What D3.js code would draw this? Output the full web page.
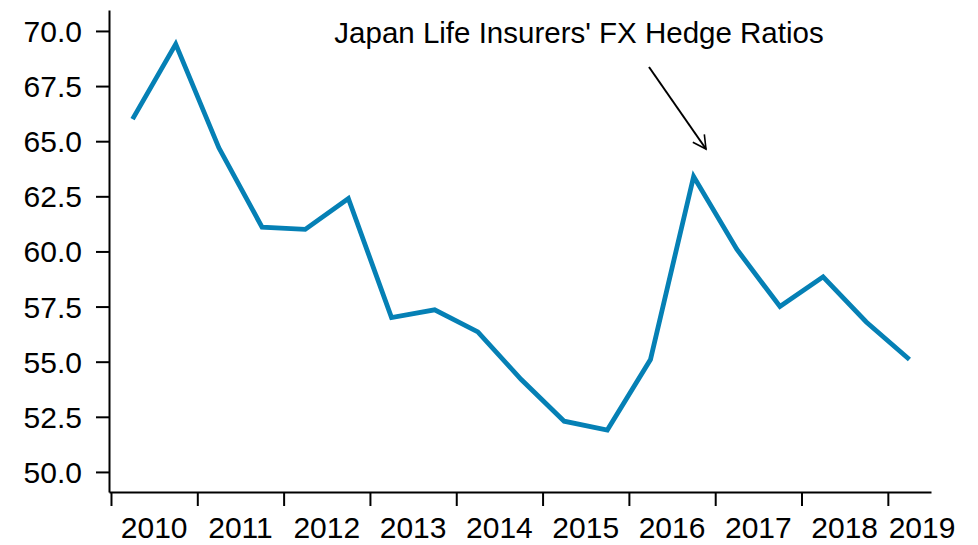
<!DOCTYPE html>
<html>
<head>
<meta charset="utf-8">
<script src="https://cdn.jsdelivr.net/npm/d3@7"></script>
<style>
  html, body { margin: 0; padding: 0; background: #fff; }
  svg text { font-family: "Liberation Sans", Arial, sans-serif; fill: #000; }
</style>
</head>
<body>
<div id="grafico"></div>
<script>
// datos - semestral (mitad de cada semestre)
const periodos = [2010.25, 2010.75, 2011.25, 2011.75, 2012.25, 2012.75, 2013.25, 2013.75,
                  2014.25, 2014.75, 2015.25, 2015.75, 2016.25, 2016.75, 2017.25, 2017.75,
                  2018.25, 2018.75, 2019.25];
const ratios = [66.0, 69.4, 64.7, 61.1, 61.0, 62.4, 57.0, 57.35,
                56.35, 54.2, 52.3, 51.9, 55.1, 63.4, 60.1, 57.5,
                58.85, 56.8, 55.1];
const years = [2010, 2011, 2012, 2013, 2014, 2015, 2016, 2017, 2018, 2019];
const yTicks = [50, 52.5, 55, 57.5, 60, 62.5, 65, 67.5, 70];
const titulo = "Japan Life Insurers' FX Hedge Ratios";

const width = 978;
const height = 545;

const svg = d3.select("#grafico")
    .append("svg")
    .attr("width", width)
    .attr("height", height);

// escalas
const x = d3.scaleLinear()
    .domain([2009.977, 2019.5])
    .range([109, 931]);

const y = d3.scaleLinear()
    .domain([49.09, 70.95])
    .range([492, 10]);

// eje Y
const yAxis = d3.axisLeft(y)
    .tickValues(yTicks)
    .tickFormat(d3.format(".1f"))
    .tickSize(13)
    .tickSizeOuter(0)
    .tickPadding(14);

const gy = svg.append("g")
    .attr("transform", `translate(${x.range()[0]},0)`)
    .call(yAxis);
gy.selectAll("text").style("font-size", "30px").attr("dy", "0.35em");

// eje X
const xAxis = d3.axisBottom(x)
    .tickValues(years)
    .tickFormat("")
    .tickSize(14)
    .tickSizeOuter(0);

const gx = svg.append("g")
    .attr("transform", `translate(0,${y.range()[0]})`)
    .call(xAxis);

svg.selectAll(".domain, .tick line")
    .attr("stroke", "#000")
    .attr("stroke-width", 2);

// etiquetas de años centradas en cada año
svg.append("g")
    .selectAll("text")
    .data(years)
    .join("text")
    .attr("x", d => Math.min(x(d + 0.5), 922))
    .attr("y", 538)
    .attr("text-anchor", "middle")
    .style("font-size", "30px")
    .text(d => d);

// linea
const linea = d3.line()
    .x((d, i) => x(periodos[i]))
    .y(d => y(d));

svg.append("path")
    .datum(ratios)
    .attr("d", linea)
    .attr("fill", "none")
    .attr("stroke", "#0580b5")
    .attr("stroke-width", 4.8)
    .attr("stroke-linejoin", "miter");

// titulo + flecha
svg.append("text")
    .attr("x", 579)
    .attr("y", 43)
    .attr("text-anchor", "middle")
    .style("font-size", "29.5px")
    .text(titulo);

svg.append("defs").append("marker")
    .attr("id", "flecha")
    .attr("viewBox", "-14 -8 16 16")
    .attr("refX", 0)
    .attr("refY", 0)
    .attr("markerWidth", 16)
    .attr("markerHeight", 16)
    .attr("markerUnits", "userSpaceOnUse")
    .attr("orient", "auto")
    .append("path")
    .attr("d", "M-13,-7 L0,0 L-13,7")
    .attr("fill", "none")
    .attr("stroke", "#000")
    .attr("stroke-width", 1.6);

svg.append("line")
    .attr("x1", 649).attr("y1", 67)
    .attr("x2", 706).attr("y2", 149)
    .attr("stroke", "#000")
    .attr("stroke-width", 2)
    .attr("marker-end", "url(#flecha)");
</script>
</body>
</html>
